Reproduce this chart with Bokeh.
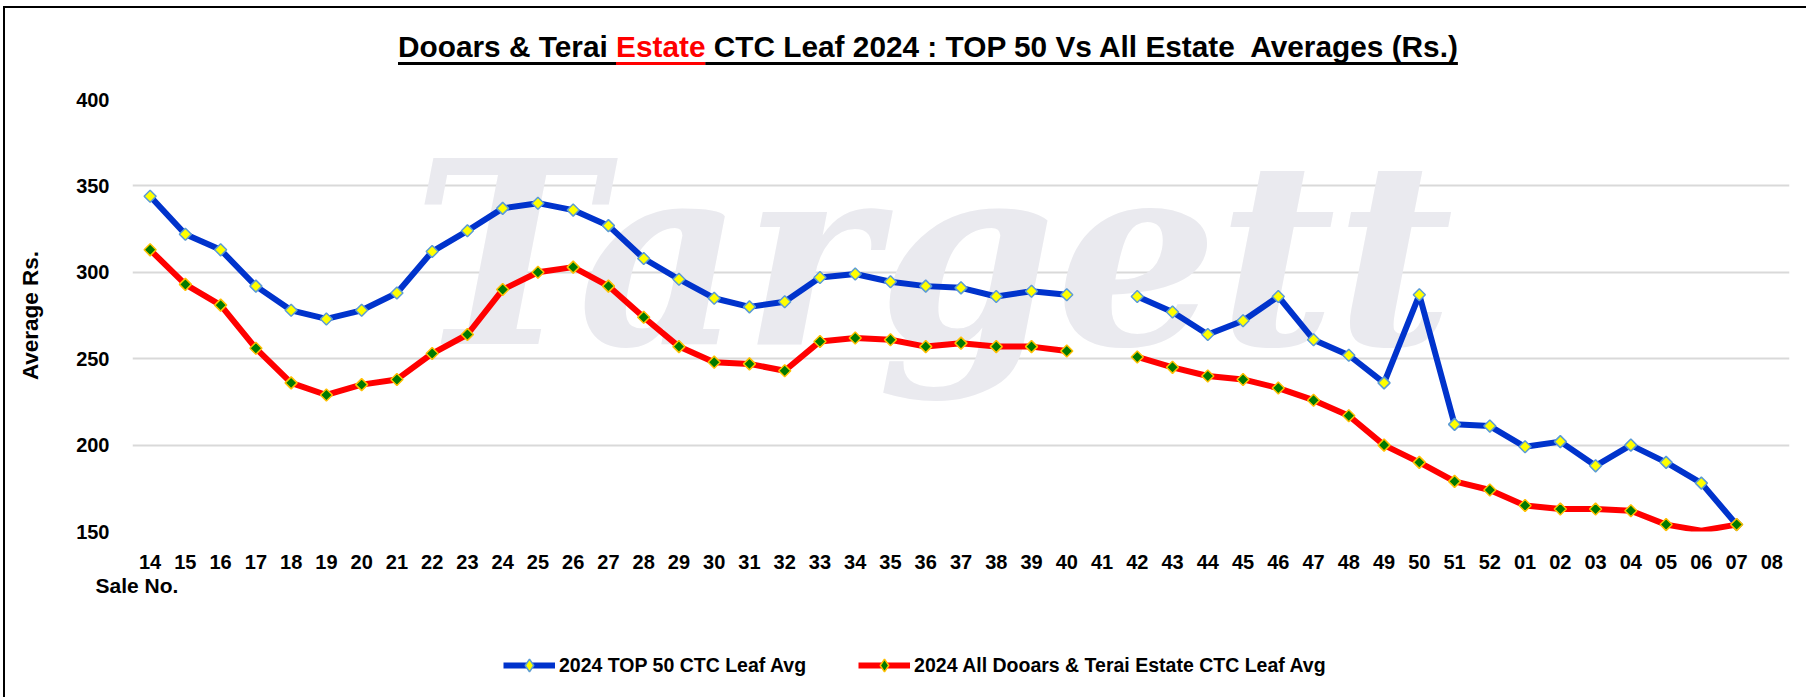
import math
import numpy as np
from bokeh.plotting import figure
from bokeh.models import (FactorRange, Range1d, FixedTicker, Label, Legend, LegendItem,
                          ColumnDataSource, Div, Title)
from bokeh.layouts import column
from bokeh.embed import file_html
from bokeh.resources import INLINE

nan = float("nan")

# ---------------- data ----------------
sale_no = ["14", "15", "16", "17", "18", "19", "20", "21", "22", "23", "24", "25", "26",
           "27", "28", "29", "30", "31", "32", "33", "34", "35", "36", "37", "38", "39",
           "40", "41", "42", "43", "44", "45", "46", "47", "48", "49", "50", "51", "52",
           "01", "02", "03", "04", "05", "06", "07", "08"]

top50_avg = [344, 322, 313, 292, 278, 273, 278, 288, 312, 324, 337, 340, 336,
             327, 308, 296, 285, 280, 283, 297, 299, 294.5, 292, 291, 286, 289,
             287, nan, 286, 277, 264, 272, 286, 261, 252, 236, 287, 212, 211,
             199, 202, 188, 200, 190, 178, 154, nan]

all_estate_avg = [313, 293, 281, 256, 236, 229, 235, 238, 253, 264, 290, 300, 303,
                  292, 274, 257, 248, 247, 243, 260, 262, 261, 257, 259, 257, 257,
                  254.5, nan, 251, 245, 240, 238, 233, 226, 217, 200, 190, 179, 174,
                  165, 163, 163, 162, 154, 150.5, 154, nan]

no_marker_all_estate = ["06"]
y_ticks = [150, 200, 250, 300, 350, 400]

series_names = ["2024 TOP 50 CTC Leaf Avg",
                "2024 All Dooars & Terai Estate CTC Leaf Avg"]
title_parts = ["Dooars &amp; Terai", "Estate", "CTC Leaf 2024 : TOP 50 Vs All Estate  Averages (Rs.)"]

# ---------------- layout (page px) ----------------
PAGE_W, PAGE_H = 1806, 697
ORG_X, ORG_Y = 5, 8            # content origin inside the bordered column
FR_L, FR_R, FR_T, FR_B = 132, 1789, 99, 531
MAIN_TOP_BORDER = 20
MAIN_BOTTOM = 610
N = len(sale_no)
Y0, Y1 = 150, 400


def xd(px):
    return (px - FR_L) / (FR_R - FR_L) * N


def yd(py):
    return Y0 + (FR_B - py) * (Y1 - Y0) / (FR_B - FR_T)


FONT = "Liberation Sans"

p = figure(title=None, x_range=FactorRange(factors=sale_no), y_range=Range1d(Y0, Y1),
           frame_width=FR_R - FR_L, frame_height=FR_B - FR_T,
           min_border_left=FR_L - ORG_X, min_border_right=PAGE_W - FR_R,
           min_border_top=MAIN_TOP_BORDER, min_border_bottom=MAIN_BOTTOM - FR_B,
           output_backend="svg", toolbar_location=None,
           background_fill_color="white", border_fill_color="white", margin=(0, 0, 0, 0))
p.outline_line_color = None

# axes
for ax in (p.xaxis, p.yaxis):
    ax.axis_line_color = None
    ax.major_tick_line_color = None
    ax.minor_tick_line_color = None
    ax.major_tick_out = 0
    ax.major_tick_in = 0
    ax.major_label_text_font = FONT
    ax.major_label_text_font_style = "bold"
    ax.major_label_text_font_size = "20px"
    ax.major_label_text_color = "black"
p.xaxis.major_label_standoff = 23
p.yaxis.major_label_standoff = 23
p.yaxis.ticker = FixedTicker(ticks=y_ticks)
p.yaxis.axis_label = "Average Rs."
p.yaxis.axis_label_standoff = 30
p.yaxis.axis_label_text_font = FONT
p.yaxis.axis_label_text_font_style = "bold"
p.yaxis.axis_label_text_font_size = "22.5px"
p.yaxis.axis_label_text_color = "black"

p.xgrid.grid_line_color = None
p.ygrid.grid_line_color = "#D9D9D9"
p.ygrid.grid_line_width = 2

# watermark
p.add_layout(Label(x=xd(412), y=yd(254), text="Targett", text_font="DejaVu Serif",
                   text_font_style="bold italic", text_font_size="255px",
                   text_color="#EAEAEF", text_align="left", text_baseline="middle",
                   level="underlay"))

# data
src = ColumnDataSource(dict(x=sale_no, top=np.array(top50_avg, dtype=float),
                            all=np.array(all_estate_avg, dtype=float)))
keep = [s not in no_marker_all_estate for s in sale_no]
src_m2 = ColumnDataSource(dict(x=[s for s, k in zip(sale_no, keep) if k],
                               y=np.array([v for v, k in zip(all_estate_avg, keep) if k], dtype=float)))

BLUE, RED = "#0033CC", "#FF0000"
l1_style = dict(line_color=BLUE, line_width=6, line_join="round")
l2_style = dict(line_color=RED, line_width=6, line_join="round")
m1_colors = dict(fill_color="#FFFF00", line_color="#5B9BD5", line_width=1.5)
m2_colors = dict(fill_color="#007A00", line_color="#FFC000", line_width=1.5)
diamond = dict(marker="square", angle=math.pi / 4, size=8.5)

p.line("x", "top", source=src, **l1_style)
p.scatter("x", "top", source=src, **diamond, **m1_colors)
p.line("x", "all", source=src, **l2_style)
p.scatter("x", "y", source=src_m2, **diamond, **m2_colors)

# "Sale No." under the tick labels
p.add_layout(Title(text="Sale No.", align="left", offset=95 - FR_L, standoff=0,
                   text_font=FONT, text_font_style="bold", text_font_size="21px",
                   text_color="black"), "below")

# ---------------- legend strip (own small figure, same series, data kept out of view) -------
LEG_H = PAGE_H - MAIN_BOTTOM
lg = figure(title=None, width=PAGE_W - ORG_X, height=LEG_H,
            x_range=FactorRange(factors=sale_no), y_range=Range1d(-2, -1),
            x_axis_location=None, y_axis_location=None,
            min_border=0, output_backend="svg", toolbar_location=None,
            background_fill_color="white", border_fill_color="white", margin=(0, 0, 0, 0))
lg.grid.visible = False
lg.outline_line_color = None
legend_diamond = dict(marker="diamond", size=15)
k1 = lg.line("x", "top", source=src, **l1_style)
k1m = lg.scatter("x", "top", source=src, **legend_diamond, **m1_colors)
k2 = lg.line("x", "all", source=src, **l2_style)
k2m = lg.scatter("x", "y", source=src_m2, **legend_diamond, **m2_colors)

LEG_CY = 665 - MAIN_BOTTOM      # legend centre, from top of strip
LEG_HH = 32
LEG_X_SHIFT = 126               # measured offset of the legend box in this strip
legend = Legend(items=[LegendItem(label=series_names[0], renderers=[k1, k1m]),
                       LegendItem(label=series_names[1], renderers=[k2, k2m])],
                orientation="horizontal",
                location=(502 - ORG_X - LEG_X_SHIFT, LEG_H - LEG_CY - LEG_HH // 2),
                glyph_width=52, glyph_height=LEG_HH, label_standoff=4, spacing=52,
                padding=0, margin=0, label_height=LEG_HH,
                label_text_font=FONT, label_text_font_style="bold",
                label_text_font_size="19.5px", label_text_color="black",
                background_fill_alpha=0, border_line_color=None)
lg.add_layout(legend, "center")

# ---------------- title (HTML, with the red underlined word) ----------------
ul = ("text-decoration:underline; text-decoration-thickness:3px; text-underline-offset:5px; "
      "text-decoration-skip-ink:none;")
title_html = (
    '<div style="white-space:pre; font-family:\'%s\'; font-weight:bold; font-size:29.8px; '
    'line-height:34px; padding-left:%dpx; padding-top:%dpx; color:#000; %s">'
    '%s <span style="color:#FF0000; %s">%s</span> %s</div>'
    % (FONT, 398 - ORG_X, 22, ul, title_parts[0], ul, title_parts[1], title_parts[2])
)
title_div = Div(text=title_html, width=PAGE_W - ORG_X,
                height=FR_T - MAIN_TOP_BORDER - ORG_Y, margin=(0, 0, 0, 0))

layout = column(title_div, p, lg, margin=(ORG_Y - 2, 0, 0, ORG_X - 2),
                styles={"border-top": "2px solid #000", "border-left": "2px solid #000"})

open("out.html", "w").write(file_html(layout, INLINE))
